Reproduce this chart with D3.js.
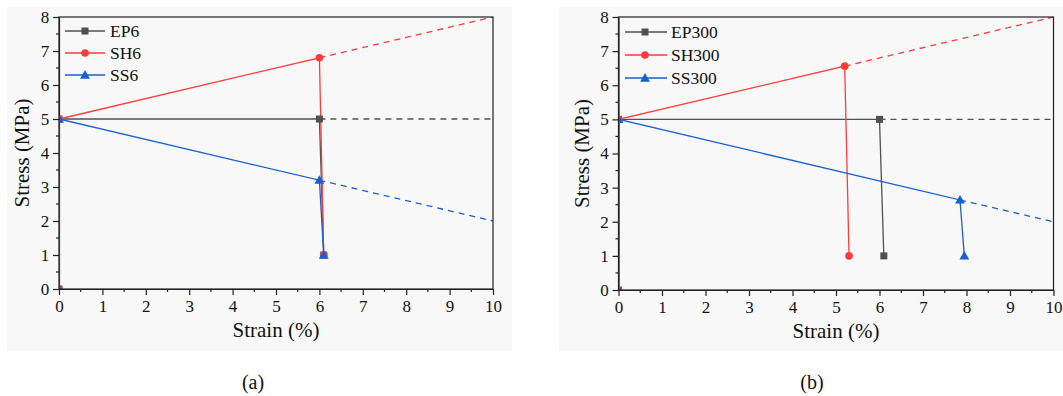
<!DOCTYPE html>
<html><head><meta charset="utf-8">
<script src="https://cdn.jsdelivr.net/npm/d3@7"></script>
</head>
<body style="margin:0;background:#fff">
<svg id="c" width="1063" height="396" style="display:block"></svg>
<script>
// ---- data ----
const xTicks = [0,1,2,3,4,5,6,7,8,9,10];
const yTicks = [0,1,2,3,4,5,6,7,8];
const seriesNames = ["EP","SH","SS"];
const seriesColors = ["#505050","#ff3b3b","#1a5fd0"];
const seriesShapes = ["square","circle","triangle"];

// Panel (a)
const aLabels = ["EP6","SH6","SS6"];
const aEP = [[0,0],[0,5],[6,5],[6.1,1]];
const aSH = [[0,0],[0,5],[6,6.8],[6.1,1]];
const aSS = [[0,0],[0,5],[6,3.2],[6.1,1]];
const aEPext = [[6,5],[10,5]];
const aSHext = [[6,6.8],[10,8]];
const aSSext = [[6,3.2],[10,2]];

// Panel (b)
const bLabels = ["EP300","SH300","SS300"];
const bEP = [[0,0],[0,5],[6,5],[6.1,1]];
const bSH = [[0,0],[0,5],[5.2,6.56],[5.3,1]];
const bSS = [[0,0],[0,5],[7.85,2.64],[7.95,1]];
const bEPext = [[6,5],[10,5]];
const bSHext = [[5.2,6.56],[10,8]];
const bSSext = [[7.85,2.64],[10,2]];

const FONT = '"Liberation Serif"';

const panels = [
  {id:"a", bg:[7,7,505,344], x0:59, x1:493, y0:289, y1:17, caption:"(a)", capX:253,
   labels:aLabels, series:[aEP,aSH,aSS], ext:[aEPext,aSHext,aSSext],
   leg:{x0:65,x1:105,mx:85,tx:110,ys:[31,53,75]}},
  {id:"b", bg:[559,7,504,344], x0:618.5, x1:1053.5, y0:290, y1:17, caption:"(b)", capX:812,
   labels:bLabels, series:[bEP,bSH,bSS], ext:[bEPext,bSHext,bSSext],
   leg:{x0:625,x1:667,mx:645,tx:671,ys:[32,55,78]}}
];

const svg = d3.select("#c");
const defs = svg.append("defs");

function marker(g, shape, cx, cy, color){
  if(shape==="square"){
    g.append("rect").attr("x",cx-3.5).attr("y",cy-3.5).attr("width",7).attr("height",7).attr("fill",color);
  } else if(shape==="circle"){
    g.append("circle").attr("cx",cx).attr("cy",cy).attr("r",3.8).attr("fill",color);
  } else {
    g.append("path").attr("d",d3.symbol(d3.symbolTriangle,42)()).attr("transform",`translate(${cx},${cy+0.8})`).attr("fill",color);
  }
}

panels.forEach(p=>{
  const g = svg.append("g");
  g.append("rect").attr("x",p.bg[0]).attr("y",p.bg[1]).attr("width",p.bg[2]).attr("height",p.bg[3]).attr("fill","#f8f8f8");
  const x = d3.scaleLinear().domain([0,10]).range([p.x0,p.x1]);
  const y = d3.scaleLinear().domain([0,8]).range([p.y0,p.y1]);

  defs.append("clipPath").attr("id","clip-"+p.id).append("rect")
    .attr("x",p.x0).attr("y",p.y1).attr("width",p.x1-p.x0).attr("height",p.y0-p.y1);

  // axes
  const xa = g.append("g").attr("transform",`translate(0,${p.y0})`)
    .call(d3.axisBottom(x).tickValues(xTicks).tickSize(6).tickSizeOuter(0).tickFormat(d3.format("d")));
  const ya = g.append("g").attr("transform",`translate(${p.x0},0)`)
    .call(d3.axisLeft(y).tickValues(yTicks).tickSize(6).tickSizeOuter(0).tickFormat(d3.format("d")));
  [xa,ya].forEach(a=>{
    a.attr("font-family",null).attr("font-size",null);
    a.select(".domain").attr("stroke","#222").attr("stroke-width",1.2);
    a.selectAll(".tick line").attr("stroke","#222").attr("stroke-width",1.2);
    a.selectAll("text").style("font-family",FONT).style("font-size","17px").attr("fill","#111");
  });
  xa.selectAll("text").attr("dy","0.85em");
  ya.selectAll("text").attr("dx","-0.05em");
  // minor ticks
  const xm = d3.range(0.5,10,1), ym = d3.range(0.5,8,1);
  g.selectAll(null).data(xm).enter().append("line")
    .attr("x1",d=>x(d)).attr("x2",d=>x(d)).attr("y1",p.y0).attr("y2",p.y0+3).attr("stroke","#222").attr("stroke-width",1.2);
  g.selectAll(null).data(ym).enter().append("line")
    .attr("y1",d=>y(d)).attr("y2",d=>y(d)).attr("x1",p.x0).attr("x2",p.x0-3).attr("stroke","#222").attr("stroke-width",1.2);

  // axis titles
  g.append("text").attr("x",(p.x0+p.x1)/2).attr("y",p.y0+48).attr("text-anchor","middle")
    .style("font-family",FONT).style("font-size","21px").attr("fill","#111").text("Strain (%)");
  g.append("text").attr("transform",`translate(${p.x0-30},${(p.y0+p.y1)/2}) rotate(-90)`).attr("text-anchor","middle")
    .style("font-family",FONT).style("font-size","21px").attr("fill","#111").text("Stress (MPa)");
  g.append("text").attr("x",p.capX).attr("y",389).attr("text-anchor","middle")
    .style("font-family",FONT).style("font-size","20px").attr("fill","#111").text(p.caption);

  const dg = g.append("g").attr("clip-path",`url(#clip-${p.id})`);
  const line = d3.line().x(d=>x(d[0])).y(d=>y(d[1]));
  p.ext.forEach((e,i)=>{
    dg.append("path").attr("d",line(e)).attr("fill","none").attr("stroke",seriesColors[i])
      .attr("stroke-width",1.3).attr("stroke-dasharray","6,5");
  });
  p.series.forEach((s,i)=>{
    dg.append("path").attr("d",line(s)).attr("fill","none").attr("stroke",seriesColors[i]).attr("stroke-width",1.3);
  });
  p.series.forEach((s,i)=>{
    s.forEach(d=>marker(dg,seriesShapes[i],x(d[0]),y(d[1]),seriesColors[i]));
  });

  // frame
  g.append("rect").attr("x",p.x0).attr("y",p.y1).attr("width",p.x1-p.x0).attr("height",p.y0-p.y1)
    .attr("fill","none").attr("stroke","#222").attr("stroke-width",1.2);

  // legend
  p.labels.forEach((lab,i)=>{
    const ly = p.leg.ys[i];
    g.append("line").attr("x1",p.leg.x0).attr("x2",p.leg.x1).attr("y1",ly).attr("y2",ly)
      .attr("stroke",seriesColors[i]).attr("stroke-width",1.3);
    marker(g,seriesShapes[i],p.leg.mx,ly,seriesColors[i]);
    g.append("text").attr("x",p.leg.tx).attr("y",ly).attr("dy","0.35em")
      .style("font-family",FONT).style("font-size","17.5px").attr("fill","#111").text(lab);
  });
});
</script>
</body></html>
